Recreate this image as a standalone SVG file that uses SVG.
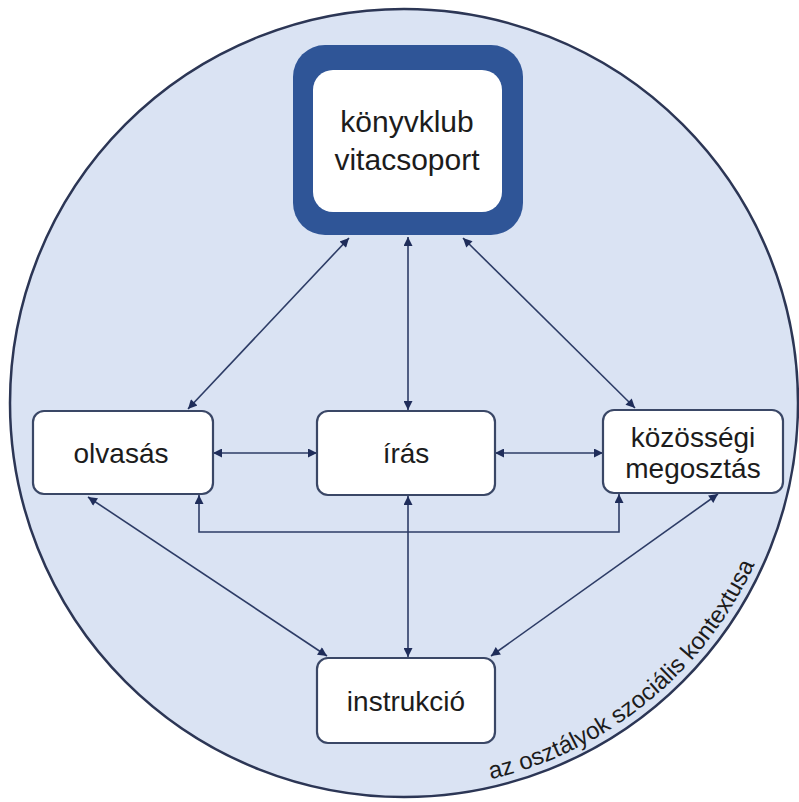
<svg xmlns="http://www.w3.org/2000/svg" width="799" height="802" viewBox="0 0 799 802">
<style>
.node{fill:#ffffff;stroke:#3a4766;stroke-width:2.2}
.lbl{font-family:"Liberation Sans",Arial,sans-serif;font-size:28px;fill:#1c1c1c;text-anchor:middle}
.big{font-size:30px}
.con{stroke:#2d3c66;stroke-width:1.6;fill:none;marker-start:url(#ah);marker-end:url(#ah)}
.ctx{font-family:"Liberation Sans",Arial,sans-serif;font-size:24px;fill:#1c1c1c}
</style>
<defs>
<marker id="ah" viewBox="0 0 10 10" refX="10" refY="5" markerWidth="11" markerHeight="9" markerUnits="userSpaceOnUse" orient="auto-start-reverse">
<path d="M0,0 L10,5 L0,10 z" fill="#1f2d5a"/>
</marker>
<path id="arc" d="M 490.8,779.1 A 386 386 0 0 0 784.1,470"/>
</defs>
<rect width="799" height="802" fill="#ffffff"/>
<g id="context">
<circle cx="404" cy="403" r="394" fill="#dae3f3" stroke="#2c3655" stroke-width="2.5"/>
<text class="ctx"><textPath href="#arc">az osztályok szociális kontextusa</textPath></text>
</g>
<g id="connectors">
<line class="con" x1="188" y1="409" x2="349" y2="238"/>
<line class="con" x1="408" y1="410" x2="408" y2="237"/>
<line class="con" x1="635" y1="408" x2="463" y2="238"/>
<line class="con" x1="213" y1="453" x2="317" y2="453"/>
<line class="con" x1="495" y1="453" x2="603" y2="453"/>
<path class="con" d="M199,495 V532 H619 V494"/>
<line class="con" x1="408" y1="496" x2="408" y2="657"/>
<line class="con" x1="88" y1="497" x2="327" y2="656"/>
<line class="con" x1="718" y1="494" x2="491" y2="656"/>
</g>
<g id="konyvklub">
<rect x="293" y="45" width="230" height="190" rx="32" fill="#2f5597"/>
<rect x="313" y="70" width="189" height="142" rx="20" fill="#ffffff"/>
<text class="lbl big" x="407" y="132">könyvklub</text>
<text class="lbl big" x="407" y="170">vitacsoport</text>
</g>
<g id="olvasas">
<rect class="node" x="33" y="411" width="180" height="83" rx="11"/>
<text class="lbl" x="121" y="463">olvasás</text>
</g>
<g id="iras">
<rect class="node" x="317" y="411" width="178" height="84" rx="11"/>
<text class="lbl" x="406" y="463">írás</text>
</g>
<g id="kozossegi">
<rect class="node" x="603" y="410" width="180" height="83" rx="11"/>
<text class="lbl" x="693" y="447">közösségi</text>
<text class="lbl" x="693" y="478">megosztás</text>
</g>
<g id="instrukcio">
<rect class="node" x="317" y="658" width="178" height="85" rx="11"/>
<text class="lbl" x="406" y="711">instrukció</text>
</g>
</svg>
